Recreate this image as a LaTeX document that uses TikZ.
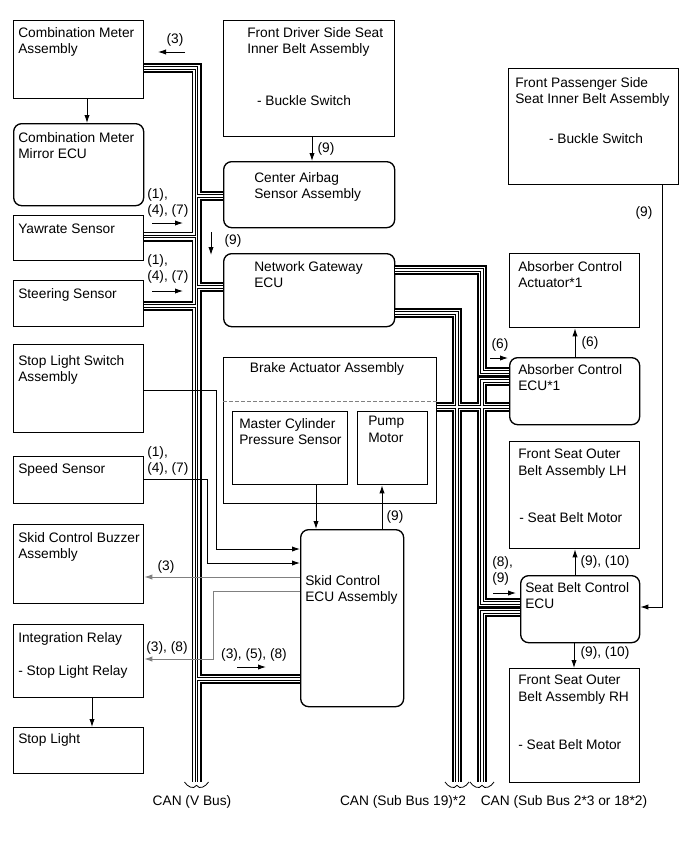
\documentclass[tikz,border=0pt]{standalone}
\usepackage{fontspec}
\setmainfont{Liberation Sans}
\usetikzlibrary{arrows.meta,positioning}

\tikzset{
  blk/.style={draw, line width=1pt, anchor=north west, inner sep=0pt},
  rblk/.style={blk, rounded corners=6pt},
  sz/.style 2 args={minimum width=#1*0.75pt, minimum height=#2*0.75pt},
  txt/.style={anchor=north west, inner sep=0pt, align=left},
  lbl/.style={inner sep=0pt},
  sig/.style={line width=0.7pt, ->},
  gsig/.style={sig, draw=gray},
  cut/.style={line width=0.6pt},
}

\begin{document}
\begin{tikzpicture}[x=0.75pt, y=-0.75pt, >={Latex[length=6pt,width=4pt]},
  font=\fontsize{10.3}{12.4}\selectfont]
\useasboundingbox (0,0) rectangle (689,853);

% left column
\node[blk, sz={130}{78}] (meter) at (13,20) {};
\node[rblk, sz={130}{82}] (mirror) at (13,123) {};
\node[blk, sz={130}{45}] (yaw) at (13,215) {};
\node[blk, sz={130}{46}] (steer) at (13,280) {};
\node[blk, sz={130}{88}] (slsw) at (13,344) {};
\node[blk, sz={130}{47}] (speed) at (13,456) {};
\node[blk, sz={130}{79}] (buzzer) at (13,524) {};
\node[blk, sz={130}{73}] (relay) at (13,624) {};
\node[blk, sz={130}{46}] (stoplt) at (13,727) {};

\node[txt] (meter-t) at (18,27) {Combination Meter\\Assembly};
\node[txt] (mirror-t) at (18,132) {Combination Meter\\Mirror ECU};
\node[txt] (yaw-t) at (18,224) {Yawrate Sensor};
\node[txt] (steer-t) at (18,288) {Steering Sensor};
\node[txt] (slsw-t) at (18,355) {Stop Light Switch\\Assembly};
\node[txt] (speed-t) at (18,463) {Speed Sensor};
\node[txt] (buzzer-t) at (18,532) {Skid Control Buzzer\\Assembly};
\node[txt] (relay-t) at (18,632) {Integration Relay\\[12.4pt]- Stop Light Relay};
\node[txt] (stoplt-t) at (18,733) {Stop Light};

% middle column
\node[blk, sz={171}{116}] (fdsi) at (223,20) {};
\node[rblk, sz={171}{66}] (cabg) at (223,161) {};
\node[rblk, sz={171}{73}] (ngw) at (223,253) {};
\node[blk, sz={213}{146}] (brake) at (223,357) {};
\node[blk, sz={115}{73}] (mcps) at (232,411) {};
\node[blk, sz={70}{73}] (pump) at (357,411) {};
\node[rblk, sz={103}{177}] (skid) at (300,529) {};

\node[txt] (fdsi-t) at (247,27) {Front Driver Side Seat\\Inner Belt Assembly};
\node[lbl] (fdsi-b) at (304,101) {- Buckle Switch};
\node[txt] (cabg-t) at (254,172) {Center Airbag\\Sensor Assembly};
\node[txt] (ngw-t) at (254,261) {Network Gateway\\ECU};
\node[lbl] (brake-t) at (327,369) {Brake Actuator Assembly};
\node[txt] (mcps-t) at (239,418) {Master Cylinder\\Pressure Sensor};
\node[txt] (pump-t) at (368,416) {Pump\\Motor};
\node[txt] (skid-t) at (305,575) {Skid Control\\ECU Assembly};

% right column
\node[blk, sz={170}{116}] (fpsi) at (508,68) {};
\node[blk, sz={130}{74}] (absact) at (509,253) {};
\node[rblk, sz={130}{67}] (absecu) at (509,357) {};
\node[blk, sz={130}{107}] (fsolh) at (509,441) {};
\node[rblk, sz={119}{67}] (sbecu) at (520,575) {};
\node[blk, sz={130}{114}] (fsorh) at (509,668) {};

\node[txt] (fpsi-t) at (515,77) {Front Passenger Side\\Seat Inner Belt Assembly};
\node[lbl] (fpsi-b) at (596,139) {- Buckle Switch};
\node[txt] (absact-t) at (518,261) {Absorber Control\\Actuator*1};
\node[txt] (absecu-t) at (518,364) {Absorber Control\\ECU*1};
\node[txt] (fsolh-t) at (518,449) {Front Seat Outer\\Belt Assembly LH};
\node[txt] (fsolh-b) at (519,512) {- Seat Belt Motor};
\node[txt] (sbecu-t) at (525,582) {Seat Belt Control\\ECU};
\node[txt] (fsorh-t) at (518,675) {Front Seat Outer\\Belt Assembly RH};
\node[txt] (fsorh-b) at (518,739) {- Seat Belt Motor};

% CAN buses
\coordinate (vbus) at (196.5,784);
\coordinate (sb19) at (457,784);
\coordinate (sb2) at (482,784);
\foreach \w/\c in {10/black, 6.4/white, 3.4/black, 1.2/white}{
  \draw[line width=\w*0.75pt, \c]
    (meter.east |- 0,68) -| (vbus)
    (vbus |- 0,196) -- (cabg.west |- 0,196)
    (yaw.east |- 0,236.5) -- (vbus |- 0,236.5)
    (vbus |- 0,287) -- (ngw.west |- 0,287)
    (steer.east |- 0,306) -- (vbus |- 0,306)
    (vbus |- 0,679) -- (skid.west |- 0,679)
    (ngw.east |- 0,313) -| (sb19)
    (brake.east |- 0,407) -- (absecu.west |- 0,407)
    (ngw.east |- 0,270) -| (sb2 |- 0,372) -- (absecu.west |- 0,372)
    (absecu.west |- 0,381) -| (sb2 |- 0,603) -- (sbecu.west |- 0,603)
    (sbecu.west |- 0,612) -| (sb2);
}
\foreach \b in {vbus, sb19, sb2}{
  \draw[cut, fill=white] ([xshift=-9pt,yshift=1.5pt]\b) .. controls +(2.2pt,-3.5pt) and +(-2.2pt,-3.5pt) .. ([yshift=-1pt]\b)
    .. controls +(2.2pt,-3.5pt) and +(-2.2pt,-3.5pt) .. ([xshift=9pt,yshift=1.5pt]\b);
}
\node[lbl] (vbus-t) at (192,802) {CAN (V Bus)};
\node[lbl] (sb19-t) at (403,802) {CAN (Sub Bus 19)*2};
\node[lbl] (sb2-t) at (564,802) {CAN (Sub Bus 2*3 or 18*2)};

% brake actuator divider
\draw[gray, line width=0.6pt, dash pattern=on 3pt off 1.5pt] (brake.west |- 0,401) -- (brake.east |- 0,401);

% signal lines
\draw[sig] (87,0 |- meter.south) -- (87,0 |- mirror.north);
\draw[sig] (92,0 |- relay.south) -- (92,0 |- stoplt.north);
\draw[sig] (312,0 |- fdsi.south) -- (312,0 |- cabg.north);
\draw[sig] (316,0 |- mcps.south) -- (316,0 |- skid.north);
\draw[sig] (382,0 |- skid.north) -- (382,0 |- pump.south);
\draw[sig] (575,0 |- absecu.north) -- (575,0 |- absact.south);
\draw[sig] (575,0 |- sbecu.north) -- (575,0 |- fsolh.south);
\draw[sig] (574,0 |- sbecu.south) -- (574,0 |- fsorh.north);
\draw[sig] (662,0 |- fpsi.south) |- (sbecu.east |- 0,607);
\draw[sig] (slsw.east |- 0,390) -| (216,549) -- (skid.west |- 0,549);
\draw[sig] (speed.east |- 0,479) -| (207,563) -- (skid.west |- 0,563);
\draw[gsig] (skid.west |- 0,577) -- (buzzer.east |- 0,577);
\draw[gsig] (skid.west |- 0,591) -| (213,659) -- (relay.east |- 0,659);

% direction arrows
\draw[sig] (185,52) -- (158,52);
\draw[sig] (152,223) -- (183,223);
\draw[sig] (152,291) -- (183,291);
\draw[sig] (211,232) -- (211,255);
\draw[sig] (237,667) -- (266,667);
\draw[sig] (490,358) -- (508,358);
\draw[sig] (493,593) -- (516,593);

% labels
\node[lbl] (l-3a) at (175,40) {(3)};
\node[txt] (l-147a) at (147,188) {(1),\\(4), (7)};
\node[txt] (l-147b) at (147,254) {(1),\\(4), (7)};
\node[txt] (l-147c) at (147,446) {(1),\\(4), (7)};
\node[lbl] (l-9a) at (326,149) {(9)};
\node[lbl] (l-9b) at (233,241) {(9)};
\node[lbl] (l-9c) at (395,517) {(9)};
\node[lbl] (l-9d) at (644,213) {(9)};
\node[lbl] (l-3b) at (166,567) {(3)};
\node[lbl] (l-38) at (167,648) {(3), (8)};
\node[lbl] (l-358) at (254,655) {(3), (5), (8)};
\node[lbl] (l-6a) at (500,345) {(6)};
\node[lbl] (l-6b) at (590,343) {(6)};
\node[lbl] (l-910a) at (605,562) {(9), (10)};
\node[lbl] (l-910b) at (605,653) {(9), (10)};
\node[txt] (l-89) at (492,556) {(8),\\(9)};
\end{tikzpicture}
\end{document}
